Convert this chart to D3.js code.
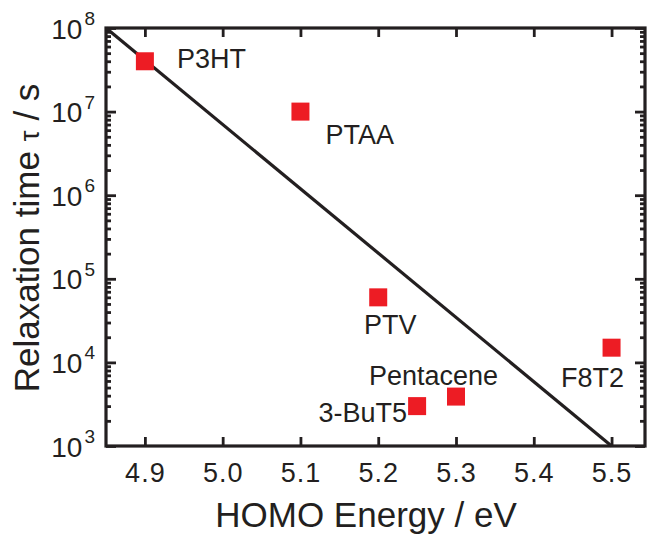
<!DOCTYPE html>
<html>
<head>
<meta charset="utf-8">
<script src="https://cdn.jsdelivr.net/npm/d3@7/dist/d3.min.js"></script>
<style>
  html, body { margin: 0; padding: 0; background: #fff; }
  svg { display: block; font-family: "Liberation Sans", Arial, sans-serif; }
</style>
</head>
<body>
<svg id="chart" width="649" height="537"></svg>
<script>
// Materials and their measured values
const materials = ["P3HT", "PTAA", "PTV", "3-BuT5", "Pentacene", "F8T2"];
const homoEnergy = [4.9, 5.1, 5.2, 5.25, 5.3, 5.5];          // eV
const relaxTime = [4e7, 1e7, 6e4, 3e3, 3.9e3, 1.5e4];          // s

// Fitted trend line endpoints
const fitEnergy = [4.85, 5.5];
const fitTime = [1e8, 1e3];

// Axis ticks
const xTicks = [4.9, 5.0, 5.1, 5.2, 5.3, 5.4, 5.5];
const yExponents = [3, 4, 5, 6, 7, 8];

const ink = "#231f20";
const red = "#ed1c24";

const svg = d3.select("#chart");
const plotL = 106, plotR = 645, plotT = 28, plotB = 446;

const x = d3.scaleLinear().domain([4.85, 5.543]).range([plotL, plotR]);
const y = d3.scaleLog().domain([1e3, 1e8]).range([plotB, plotT]);

const majorY = yExponents.map(e => Math.pow(10, e));
const minorY = [];
for (let e = 3; e < 8; e++) for (let m = 2; m <= 9; m++) minorY.push(m * Math.pow(10, e));

function styleAxis(g) {
  g.select(".domain").remove();
  g.selectAll(".tick line").attr("stroke", ink).attr("stroke-width", 2.8);
}

// Bottom axis with labels
const gx = svg.append("g").attr("transform", `translate(0,${plotB})`)
  .call(d3.axisBottom(x).tickValues(xTicks).tickSize(-9).tickPadding(17).tickFormat(d3.format(".1f")))
  .call(styleAxis);
gx.selectAll(".tick text").attr("fill", ink).attr("font-size", 27)
  .attr("letter-spacing", 1)
  .attr("font-family", "Liberation Sans, Arial, sans-serif");

// Top axis, ticks only
svg.append("g").attr("transform", `translate(0,${plotT})`)
  .call(d3.axisTop(x).tickValues(xTicks).tickSize(-9).tickFormat(""))
  .call(styleAxis);

// Left axis: major ticks with power-of-ten labels, then minor ticks
const gy = svg.append("g").attr("transform", `translate(${plotL},0)`)
  .call(d3.axisLeft(y).tickValues(majorY).tickSize(-10).tickFormat(""))
  .call(styleAxis);
gy.selectAll(".tick").each(function(d) {
  const t = d3.select(this).append("text")
    .attr("x", -11).attr("y", 0).attr("dy", "0.36em")
    .attr("text-anchor", "end").attr("fill", ink)
    .attr("font-size", 28);
  t.append("tspan").text("10");
  t.append("tspan").attr("font-size", 19).attr("dy", "-0.72em")
    .attr("dx", 2).text(Math.round(Math.log10(d)));
});
svg.append("g").attr("transform", `translate(${plotL},0)`)
  .call(d3.axisLeft(y).tickValues(minorY).tickSize(-5).tickFormat(""))
  .call(styleAxis);

// Right axis, ticks only
svg.append("g").attr("transform", `translate(${plotR},0)`)
  .call(d3.axisRight(y).tickValues(majorY).tickSize(-10).tickFormat(""))
  .call(styleAxis);
svg.append("g").attr("transform", `translate(${plotR},0)`)
  .call(d3.axisRight(y).tickValues(minorY).tickSize(-5).tickFormat(""))
  .call(styleAxis);

// Frame
svg.append("rect")
  .attr("x", plotL).attr("y", plotT)
  .attr("width", plotR - plotL).attr("height", plotB - plotT)
  .attr("fill", "none").attr("stroke", ink).attr("stroke-width", 3.2);

// Trend line
const fit = fitEnergy.map((e, i) => [e, fitTime[i]]);
svg.append("path")
  .datum(fit)
  .attr("d", d3.line().x(d => x(d[0])).y(d => y(d[1])))
  .attr("fill", "none").attr("stroke", ink).attr("stroke-width", 3.2);

// Data points
const points = materials.map((m, i) => ({ name: m, e: homoEnergy[i], t: relaxTime[i] }));
const sq = 18;
svg.append("g").selectAll("rect").data(points).join("rect")
  .attr("x", d => x(d.e) - sq / 2).attr("y", d => y(d.t) - sq / 2)
  .attr("width", sq).attr("height", sq).attr("fill", red);

// Point labels, placed relative to each marker (pixel offsets to baseline)
const labelOffset = {
  "P3HT": [32, 7, "start"],
  "PTAA": [25, 32, "start"],
  "PTV": [12, 37, "middle"],
  "3-BuT5": [-10, 16, "end"],
  "Pentacene": [-87, -12, "start"],
  "F8T2": [-19, 39, "middle"]
};
svg.append("g").selectAll("text").data(points).join("text")
  .attr("x", d => x(d.e) + labelOffset[d.name][0])
  .attr("y", d => y(d.t) + labelOffset[d.name][1])
  .attr("text-anchor", d => labelOffset[d.name][2])
  .attr("fill", ink).attr("font-size", 27)
  .text(d => d.name);

// Axis titles
svg.append("text")
  .attr("x", 366).attr("y", 527)
  .attr("text-anchor", "middle").attr("fill", ink).attr("font-size", 35)
  .text("HOMO Energy / eV");

const yt = svg.append("text")
  .attr("transform", "translate(39,238) rotate(-90)")
  .attr("text-anchor", "middle").attr("fill", ink).attr("font-size", 35);
yt.append("tspan").text("Relaxation time ");
yt.append("tspan").attr("font-size", 28).text("τ");
yt.append("tspan").text(" / s");
</script>
</body>
</html>
